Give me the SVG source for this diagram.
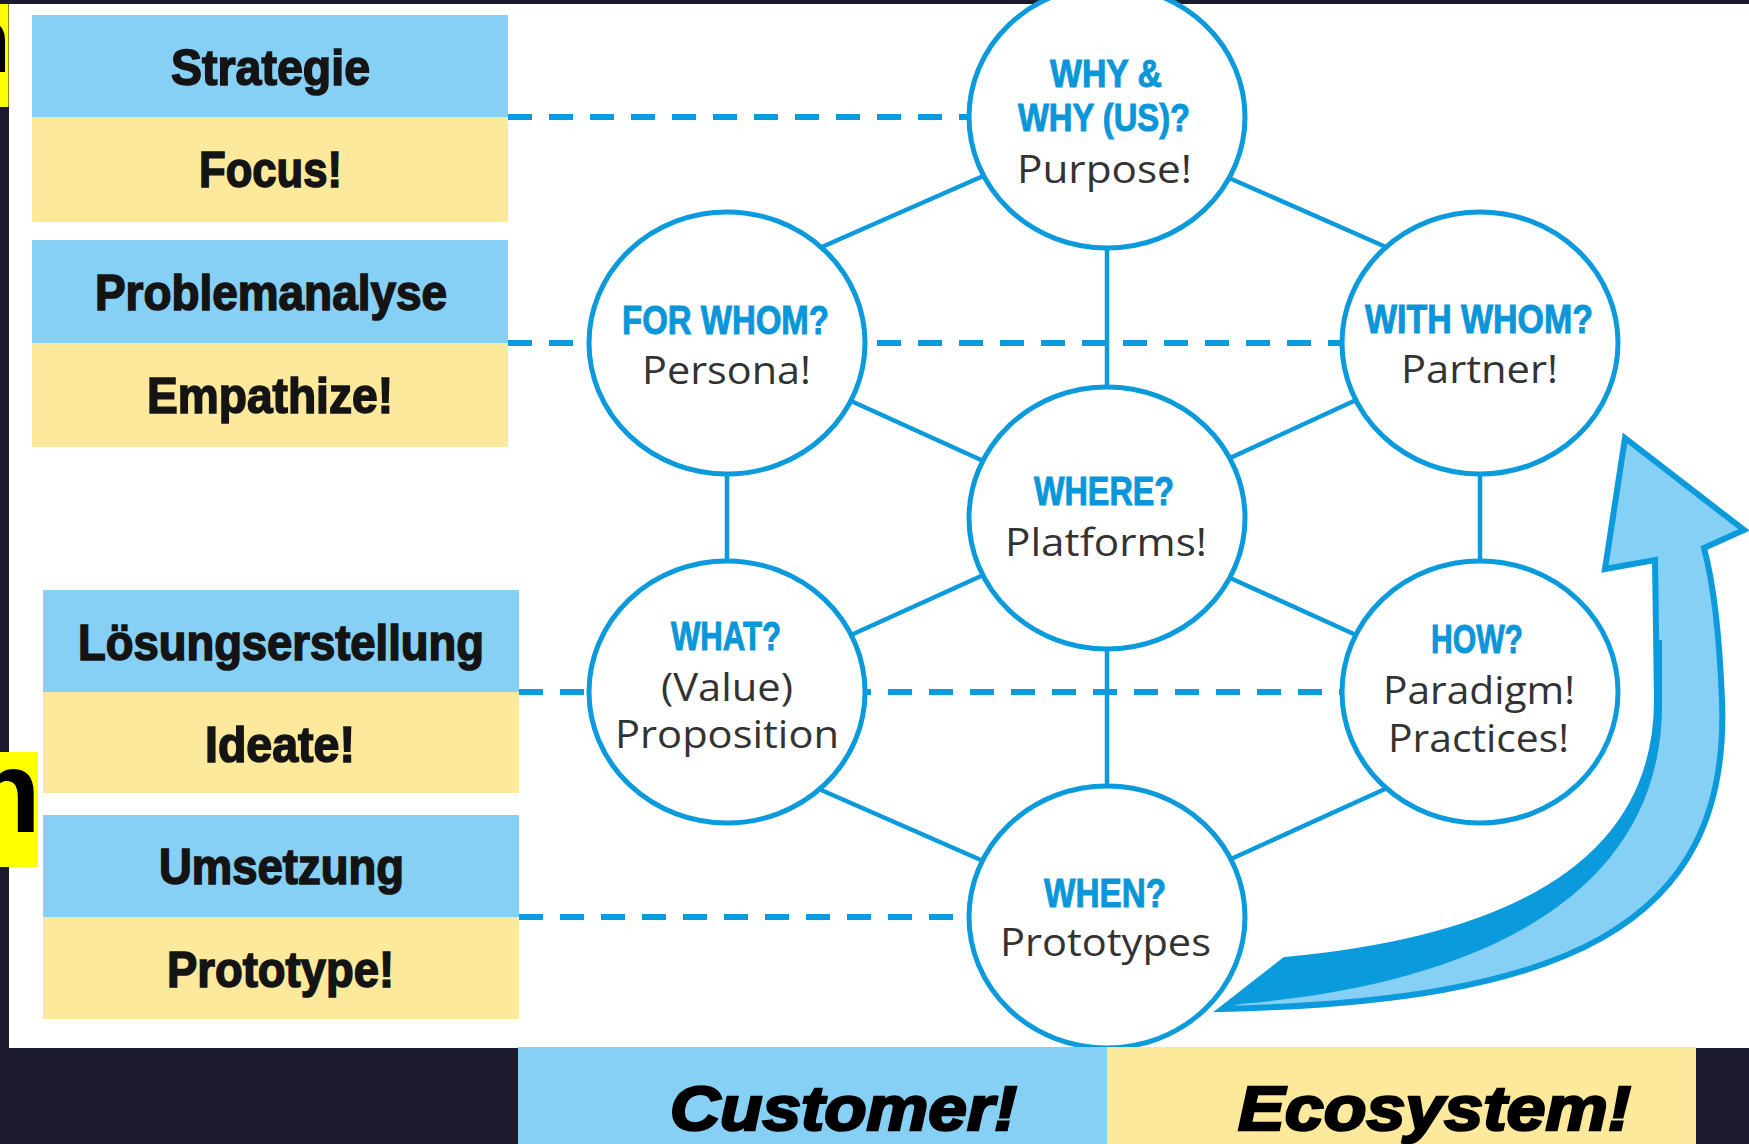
<svg xmlns="http://www.w3.org/2000/svg" width="1749" height="1144" viewBox="0 0 1749 1144">
<style>
.bg{fill:#1c1a2e}
.white{fill:#ffffff}
.blue{fill:#86cff5}
.yel{fill:#fde99b}
.tag{fill:#ffff00}
.tagtxt{font-family:"Liberation Sans",Arial,sans-serif;font-weight:bold;fill:#000}
.node ellipse{fill:#ffffff;stroke:#0b9bdc;stroke-width:5}
.link{stroke:#0b9bdc;stroke-width:4.5;fill:none}
.dash{stroke:#0b9bdc;stroke-width:6;stroke-dasharray:24 17;fill:none}
.lbl{font-family:"Liberation Sans",Arial,sans-serif;font-weight:bold;font-size:50px;fill:#141414;stroke:#141414;stroke-width:1.6}
.q{font-family:"Liberation Sans",Arial,sans-serif;font-weight:bold;font-size:41px;fill:#0a96d8;stroke:#0a96d8;stroke-width:1}
.q2{font-size:39px}
.a{font-family:"Open Sans","Liberation Sans",sans-serif;font-size:38px;fill:#333333}
.foot{font-family:"Liberation Sans",Arial,sans-serif;font-weight:bold;font-style:italic;font-size:63px;fill:#000;stroke:#000;stroke-width:2.5}
.arrowfill{fill:#86cff5;stroke:#0b9bdc;stroke-width:6;stroke-linejoin:miter}
.arrowdark{fill:#0b9bdc}
</style>
<defs>
<clipPath id="clipTag1"><rect x="0" y="4" width="8.5" height="103"/></clipPath>
<clipPath id="clipTag2"><rect x="0" y="752" width="38" height="115"/></clipPath>
</defs>

<rect class="bg" x="0" y="0" width="1749" height="1144"/>
<rect class="white" x="9" y="4" width="1740" height="1044"/>

<g id="connectors">
<line class="link" x1="990" y1="173" x2="815" y2="250"/>
<line class="link" x1="1220" y1="174" x2="1395" y2="251"/>
<line class="link" x1="1107" y1="240" x2="1107" y2="395"/>
<line class="link" x1="840" y1="396" x2="990" y2="464"/>
<line class="link" x1="1367" y1="395" x2="1217" y2="464"/>
<line class="link" x1="727" y1="465" x2="727" y2="570"/>
<line class="link" x1="1480" y1="465" x2="1480" y2="570"/>
<line class="link" x1="990" y1="572" x2="840" y2="640"/>
<line class="link" x1="1217" y1="572" x2="1367" y2="640"/>
<line class="link" x1="1107" y1="640" x2="1107" y2="795"/>
<line class="link" x1="812" y1="786" x2="990" y2="864"/>
<line class="link" x1="1396" y1="784" x2="1220" y2="864"/>
<line class="dash" x1="508" y1="117" x2="975" y2="117"/>
<line class="dash" x1="508" y1="343" x2="1350" y2="343"/>
<line class="dash" x1="519" y1="692" x2="1350" y2="692"/>
<line class="dash" x1="519" y1="917" x2="975" y2="917"/>
</g>

<g id="label-strategie">
<rect class="blue" x="32" y="15" width="476" height="102"/>
<rect class="yel" x="32" y="117" width="476" height="105"/>
<text class="lbl" x="171" y="85" textLength="199" lengthAdjust="spacingAndGlyphs">Strategie</text>
<text class="lbl" x="199" y="187" textLength="143" lengthAdjust="spacingAndGlyphs">Focus!</text>
</g>
<g id="label-problemanalyse">
<rect class="blue" x="32" y="240" width="476" height="103"/>
<rect class="yel" x="32" y="343" width="476" height="104"/>
<text class="lbl" x="95" y="310" textLength="352" lengthAdjust="spacingAndGlyphs">Problemanalyse</text>
<text class="lbl" x="147" y="413" textLength="246" lengthAdjust="spacingAndGlyphs">Empathize!</text>
</g>
<g id="label-loesung">
<rect class="blue" x="43" y="590" width="476" height="102"/>
<rect class="yel" x="43" y="692" width="476" height="101"/>
<text class="lbl" x="78" y="660" textLength="406" lengthAdjust="spacingAndGlyphs">Lösungserstellung</text>
<text class="lbl" x="205" y="762" textLength="150" lengthAdjust="spacingAndGlyphs">Ideate!</text>
</g>
<g id="label-umsetzung">
<rect class="blue" x="43" y="815" width="476" height="102"/>
<rect class="yel" x="43" y="917" width="476" height="102"/>
<text class="lbl" x="159" y="884" textLength="245" lengthAdjust="spacingAndGlyphs">Umsetzung</text>
<text class="lbl" x="167" y="987" textLength="227" lengthAdjust="spacingAndGlyphs">Prototype!</text>
</g>

<g id="node-why" class="node">
<ellipse cx="1107" cy="117" rx="138" ry="131"/>
<text class="q q2" x="1050" y="87" textLength="112" lengthAdjust="spacingAndGlyphs">WHY &amp;</text>
<text class="q q2" x="1018" y="131" textLength="172" lengthAdjust="spacingAndGlyphs">WHY (US)?</text>
<text class="a" x="1017" y="183" textLength="175" lengthAdjust="spacingAndGlyphs">Purpose!</text>
</g>
<g id="node-forwhom" class="node">
<ellipse cx="727" cy="343" rx="138" ry="131"/>
<text class="q" x="622" y="334" textLength="207" lengthAdjust="spacingAndGlyphs">FOR WHOM?</text>
<text class="a" x="642" y="384" textLength="169" lengthAdjust="spacingAndGlyphs">Persona!</text>
</g>
<g id="node-withwhom" class="node">
<ellipse cx="1480" cy="343" rx="138" ry="131"/>
<text class="q" x="1365" y="333" textLength="228" lengthAdjust="spacingAndGlyphs">WITH WHOM?</text>
<text class="a" x="1401" y="383" textLength="157" lengthAdjust="spacingAndGlyphs">Partner!</text>
</g>
<g id="node-where" class="node">
<ellipse cx="1107" cy="518" rx="138" ry="131"/>
<text class="q" x="1034" y="505" textLength="140" lengthAdjust="spacingAndGlyphs">WHERE?</text>
<text class="a" x="1005" y="556" textLength="202" lengthAdjust="spacingAndGlyphs">Platforms!</text>
</g>
<g id="node-what" class="node">
<ellipse cx="727" cy="692" rx="138" ry="131"/>
<text class="q" x="671" y="650" textLength="110" lengthAdjust="spacingAndGlyphs">WHAT?</text>
<text class="a" x="661" y="701" textLength="132" lengthAdjust="spacingAndGlyphs">(Value)</text>
<text class="a" x="615" y="748" textLength="224" lengthAdjust="spacingAndGlyphs">Proposition</text>
</g>
<g id="node-how" class="node">
<ellipse cx="1480" cy="692" rx="138" ry="131"/>
<text class="q" x="1431" y="653" textLength="92" lengthAdjust="spacingAndGlyphs">HOW?</text>
<text class="a" x="1383" y="704" textLength="192" lengthAdjust="spacingAndGlyphs">Paradigm!</text>
<text class="a" x="1388" y="752" textLength="181" lengthAdjust="spacingAndGlyphs">Practices!</text>
</g>
<g id="node-when" class="node">
<ellipse cx="1107" cy="917" rx="138" ry="131"/>
<text class="q" x="1044" y="907" textLength="122" lengthAdjust="spacingAndGlyphs">WHEN?</text>
<text class="a" x="1000" y="956" textLength="211" lengthAdjust="spacingAndGlyphs">Prototypes</text>
</g>

<g id="cycle-arrow">
<path class="arrowfill" d="M1625,438 L1744,530 L1704,548 Q1718,600 1722,700 C1731,930 1560,1001 1222,1009 L1285,960 C1480,942 1657,880 1657,700 L1655,560 L1605,569 Z"/>
<path class="arrowdark" d="M1657,640 L1657,700 C1657,880 1480,942 1285,960 L1222,1009 L1240,1004 C1470,985 1665,900 1662,700 L1662,640 Z"/>
</g>

<g id="footer">
<rect class="blue" x="518" y="1047" width="589" height="97"/>
<rect class="yel" x="1107" y="1047" width="589" height="97"/>
<text class="foot" x="670" y="1130" textLength="347" lengthAdjust="spacingAndGlyphs">Customer!</text>
<text class="foot" x="1238" y="1130" textLength="393" lengthAdjust="spacingAndGlyphs">Ecosystem!</text>
</g>

<g id="side-tags">
<rect class="tag" x="0" y="4" width="8.5" height="103"/>
<text class="tagtxt" clip-path="url(#clipTag1)" x="-46" y="72" font-size="93">n</text>
<rect class="tag" x="0" y="752" width="38" height="115"/>
<text class="tagtxt" clip-path="url(#clipTag2)" x="-30" y="832" font-size="116">n</text>
</g>
</svg>
